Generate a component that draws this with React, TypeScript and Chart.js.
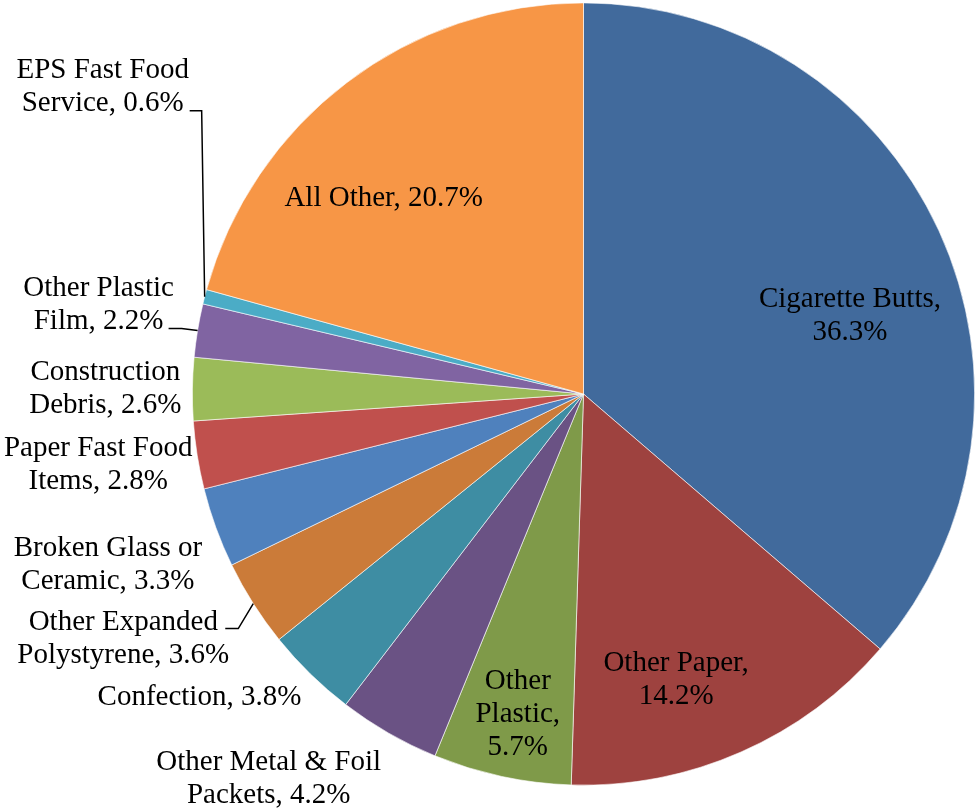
import React, { useEffect, useRef } from "react";
import { Chart, registerables } from "chart.js";

Chart.register(...registerables);

const CATEGORIES = [
  "Cigarette Butts",
  "Other Paper",
  "Other Plastic",
  "Other Metal & Foil Packets",
  "Confection",
  "Other Expanded Polystyrene",
  "Broken Glass or Ceramic",
  "Paper Fast Food Items",
  "Construction Debris",
  "Other Plastic Film",
  "EPS Fast Food Service",
  "All Other",
];

const VALUES = [36.3, 14.2, 5.7, 4.2, 3.8, 3.6, 3.3, 2.8, 2.6, 2.2, 0.6, 20.7];

const COLORS = [
  "#416A9C",
  "#9E423F",
  "#7F9A49",
  "#6A5284",
  "#3E8DA3",
  "#CB7B39",
  "#4F81BD",
  "#C0504D",
  "#9BBB59",
  "#8064A2",
  "#4BACC6",
  "#F79646",
];

// words per label line
const LINE_WORDS = [[2, 1], [2, 1], [1, 1, 1], [4, 2], [2], [2, 2], [3, 2], [3, 2], [1, 2], [2, 2], [3, 2], [3]];

// label centre offset from the slice's outer mid-point (px)
const LABEL_OFFSETS = [
  [-89, 85], [-65, -72], [16, -62], [-120, 46], [-111, 23], [-130, 35],
  [-108, 37], [-99, 10], [-87, 0], [-99, -25], [-102, -210], [37, 116],
];

// leader lines: list of points relative to slice outer mid-point (the end)
const LEADERS: Record<number, number[][]> = {
  5: [[-28, 25], [-15, 25], [0, 0]],
  9: [[-29, -2], [-16, -2], [0, 0]],
  10: [[-15, -186], [-3, -186], [0, 0]],
};

const FONT = '29px "Liberation Serif", "Times New Roman", serif';
const LINE_H = 33;

function labelLines(i: number): string[] {
  const words = `${CATEGORIES[i]}, ${VALUES[i].toFixed(1)}%`.split(" ");
  const out: string[] = [];
  let k = 0;
  for (const n of LINE_WORDS[i]) {
    out.push(words.slice(k, k + n).join(" "));
    k += n;
  }
  return out;
}

const labelPlugin = {
  id: "pieLabels",
  afterDatasetsDraw(chart: any) {
    const ctx = chart.ctx;
    const meta = chart.getDatasetMeta(0);
    ctx.save();
    ctx.font = FONT;
    ctx.fillStyle = "#000";
    ctx.textAlign = "center";
    ctx.textBaseline = "middle";
    meta.data.forEach((arc: any, i: number) => {
      const a = (arc.startAngle + arc.endAngle) / 2;
      const px = arc.x + Math.cos(a) * arc.outerRadius;
      const py = arc.y + Math.sin(a) * arc.outerRadius;
      const [dx, dy] = LABEL_OFFSETS[i];
      const lines = labelLines(i);
      const cx = px + dx;
      const cy = py + dy;
      const top = cy - ((lines.length - 1) * LINE_H) / 2;
      lines.forEach((l, j) => ctx.fillText(l, cx, top + j * LINE_H));
      const lead = LEADERS[i];
      if (lead) {
        ctx.beginPath();
        ctx.strokeStyle = "#000";
        ctx.lineWidth = 1.5;
        lead.forEach((p, j) => {
          if (j === 0) ctx.moveTo(px + p[0], py + p[1]);
          else ctx.lineTo(px + p[0], py + p[1]);
        });
        ctx.stroke();
      }
    });
    ctx.restore();
  },
};

export default function App() {
  const ref = useRef<HTMLCanvasElement>(null);
  useEffect(() => {
    document.body.style.margin = "0";
    const chart = new Chart(ref.current!, {
      type: "pie",
      data: {
        labels: CATEGORIES,
        datasets: [
          {
            data: VALUES,
            backgroundColor: COLORS,
            borderColor: "rgba(255,255,255,0.8)",
            borderWidth: 0.75,
          },
        ],
      },
      options: {
        responsive: false,
        animation: false,
        events: [],
        layout: { padding: { left: 192, right: 0, top: 2, bottom: 22 } },
        plugins: {
          legend: { display: false },
          tooltip: { enabled: false },
          title: { display: false },
        },
      },
      plugins: [labelPlugin],
    });
    return () => chart.destroy();
  }, []);
  return (
    <div style={{ position: "fixed", left: 0, top: 0, width: 975, height: 808, background: "#fff" }}>
      <canvas ref={ref} width={975} height={808} />
    </div>
  );
}
